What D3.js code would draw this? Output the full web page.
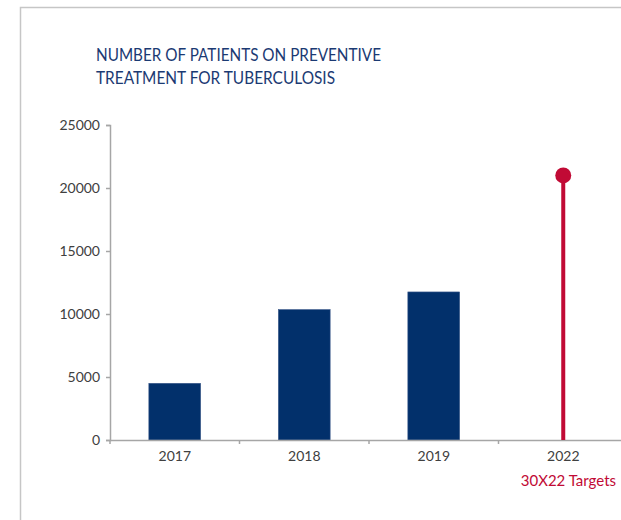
<!DOCTYPE html>
<html><head><meta charset="utf-8">
<script src="https://cdn.jsdelivr.net/npm/d3@7"></script>
<style>body{margin:0;background:#fff}svg{display:block}text{font-family:Lato,"Open Sans",sans-serif}</style>
</head><body>
<script>
const categories = ["2017","2018","2019","2022"];
const actualYears = ["2017","2018","2019"];
const actualValues = [4500, 10350, 11750];
const targetYear = "2022";
const targetValue = 21000;
const yTicks = [0,5000,10000,15000,20000,25000];
const titleLines = ["NUMBER OF PATIENTS ON PREVENTIVE","TREATMENT FOR TUBERCULOSIS"];
const targetLabel = "30X22 Targets";

const W=621,H=520;
const svg=d3.select("body").append("svg").attr("width",W).attr("height",H);
// frame
svg.append("path").attr("d",`M20.5,${H} V7.5 H${W}`).attr("fill","none").attr("stroke","#c6c6c6").attr("stroke-width",1.5);

const titleColor="#1b3a73";
const titleWidths=[285,239];
svg.append("g").selectAll("text").data(titleLines).join("text")
  .attr("x",96).attr("y",(d,i)=>61+i*23).attr("fill",titleColor)
  .attr("textLength",(d,i)=>titleWidths[i]).attr("lengthAdjust","spacingAndGlyphs")
  .style("font-size","17.5px").text(d=>d);

const x=d3.scaleBand().domain(categories).range([110,628]).paddingInner(0).paddingOuter(0);
const y=d3.scaleLinear().domain([0,25000]).range([440,125]);

// y axis
const ya=svg.append("g").attr("transform","translate(110,0)")
  .call(d3.axisLeft(y).tickValues(yTicks).tickSize(4).tickPadding(6).tickFormat(d3.format("d")));
ya.select(".domain").attr("stroke","#a6a6a6").attr("stroke-width",1.5);
ya.selectAll(".tick line").attr("stroke","#a6a6a6").attr("stroke-width",1.5);
ya.selectAll("text").attr("fill","#404040").style("font-size","14px").style("font-family","Lato,sans-serif");

// bars
svg.append("g").selectAll("rect").data(actualYears.map((c,i)=>({c,v:actualValues[i]}))).join("rect")
  .attr("x",d=>x(d.c)+x.bandwidth()*0.3).attr("width",x.bandwidth()*0.4)
  .attr("y",d=>y(d.v)).attr("height",d=>y(0)-y(d.v))
  .attr("fill","#02306b").attr("stroke","#3d5a8a").attr("stroke-width",0.6);

// x axis
const xa=svg.append("g").attr("transform","translate(0,440)")
  .call(d3.axisBottom(x).tickSize(0).tickPadding(11));
xa.select(".domain").attr("stroke","#a6a6a6").attr("stroke-width",1.5);
xa.selectAll("text").attr("fill","#404040").style("font-size","14px").style("font-family","Lato,sans-serif");
svg.append("g").selectAll("line").data(categories).join("line")
  .attr("x1",d=>x(d)).attr("x2",d=>x(d)).attr("y1",440).attr("y2",444)
  .attr("stroke","#a6a6a6").attr("stroke-width",1.5);

// target lollipop
const red="#c10a35";
const cx=x(targetYear)+x.bandwidth()/2;
svg.append("line").attr("x1",cx).attr("x2",cx).attr("y1",y(0)).attr("y2",y(targetValue))
  .attr("stroke",red).attr("stroke-width",4);
svg.append("circle").attr("cx",cx).attr("cy",y(targetValue)).attr("r",8).attr("fill",red);
svg.append("text").attr("x",616).attr("y",486).attr("text-anchor","end").attr("fill",red)
  .style("font-size","15px").text(targetLabel);
</script>
</body></html>
